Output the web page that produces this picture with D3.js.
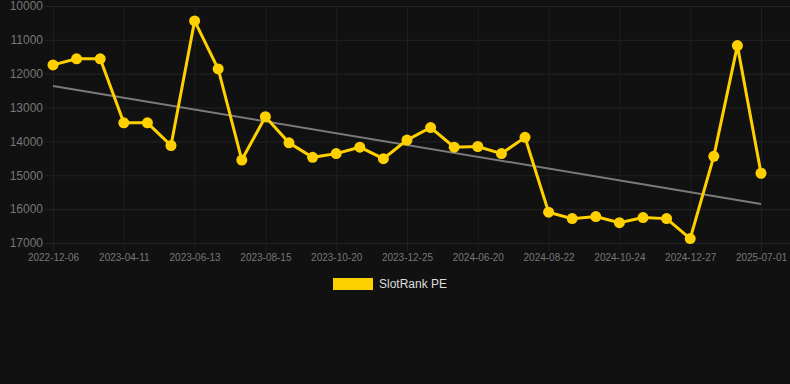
<html>
<head>
<meta charset="utf-8">
<title>SlotRank PE</title>
<style>
  body { margin:0; background:#111111; }
  svg { display:block; }
</style>
</head>
<body>
<svg width="790" height="384"></svg>
<script src="https://d3js.org/d3.v7.min.js"></script>
<script>
// dates of each snapshot (only every 3rd one is labelled on the axis)
var dates = ['2022-12-06','2023-01-24','2023-03-07','2023-04-11','2023-05-09','2023-05-30',
  '2023-06-13','2023-07-04','2023-07-25','2023-08-15','2023-09-05','2023-09-26',
  '2023-10-20','2023-11-10','2023-12-01','2023-12-25','2024-02-22','2024-04-20',
  '2024-06-20','2024-07-11','2024-08-01','2024-08-22','2024-09-12','2024-10-03',
  '2024-10-24','2024-11-14','2024-12-05','2024-12-27','2025-02-20','2025-04-24',
  '2025-07-01'];
var rank = [11740,11560,11560,13450,13450,14120,10440,11860,14550,13270,14040,14470,
  14360,14170,14510,13960,13590,14170,14150,14360,13880,16090,16280,16220,16400,
  16250,16280,16870,14440,11170,14940];
var trend = [12360,15850];   // trend line at first and last date
var yTicks = [10000,11000,12000,13000,14000,15000,16000,17000];
var seriesName = 'SlotRank PE';

var yellow = '#ffd000';
var svg = d3.select('svg');

var x = d3.scalePoint().domain(dates).range([53,761]);
var y = d3.scaleLinear().domain([10000,17000]).range([6,243]);

var shown = dates.filter(function(d,i){ return i % 3 == 0; });

// horizontal grid
svg.append('g').selectAll('line')
  .data(yTicks).enter().append('line')
  .attr('x1',45).attr('x2',790)
  .attr('y1',function(d){ return y(d)+0.5; })
  .attr('y2',function(d){ return y(d)+0.5; })
  .attr('stroke','#232323').attr('stroke-width',1);

// vertical grid at labelled dates
svg.append('g').selectAll('line')
  .data(shown).enter().append('line')
  .attr('x1',function(d){ return x(d)+0.5; })
  .attr('x2',function(d){ return x(d)+0.5; })
  .attr('y1',6).attr('y2',251)
  .attr('stroke','#1f1f1f').attr('stroke-width',1);

// y axis
var yAxis = svg.append('g')
  .attr('transform','translate(45,0)')
  .call(d3.axisLeft(y).tickValues(yTicks).tickSize(0).tickPadding(2).tickFormat(d3.format('d')));
yAxis.select('.domain').remove();
yAxis.selectAll('text')
  .attr('fill','#777').attr('font-family','"Liberation Sans", Arial, sans-serif').attr('font-size','12px');

// x axis
var xAxis = svg.append('g')
  .attr('transform','translate(0,251)')
  .call(d3.axisBottom(x).tickValues(shown).tickSize(0).tickPadding(3));
xAxis.select('.domain').remove();
xAxis.selectAll('text')
  .attr('fill','#777').attr('font-family','"Liberation Sans", Arial, sans-serif').attr('font-size','10px');

// trend line
svg.append('line')
  .attr('x1',x(dates[0])).attr('y1',y(trend[0]))
  .attr('x2',x(dates[dates.length-1])).attr('y2',y(trend[1]))
  .attr('stroke','#7a7a7a').attr('stroke-width',2);

// main series
var line = d3.line()
  .x(function(d,i){ return x(dates[i]); })
  .y(function(d){ return y(d); });

svg.append('path')
  .datum(rank)
  .attr('d',line)
  .attr('fill','none')
  .attr('stroke',yellow)
  .attr('stroke-width',3)
  .attr('stroke-linejoin','miter');

svg.append('g').selectAll('circle')
  .data(rank).enter().append('circle')
  .attr('cx',function(d,i){ return x(dates[i]); })
  .attr('cy',function(d){ return y(d); })
  .attr('r',5.5)
  .attr('fill',yellow);

// legend
svg.append('rect')
  .attr('x',333).attr('y',278).attr('width',40).attr('height',12)
  .attr('fill',yellow);
svg.append('text')
  .text(seriesName)
  .attr('x',379).attr('y',288)
  .attr('fill','#dddddd')
  .attr('font-family','"Liberation Sans", Arial, sans-serif')
  .attr('font-size','12px');
</script>
</body>
</html>
